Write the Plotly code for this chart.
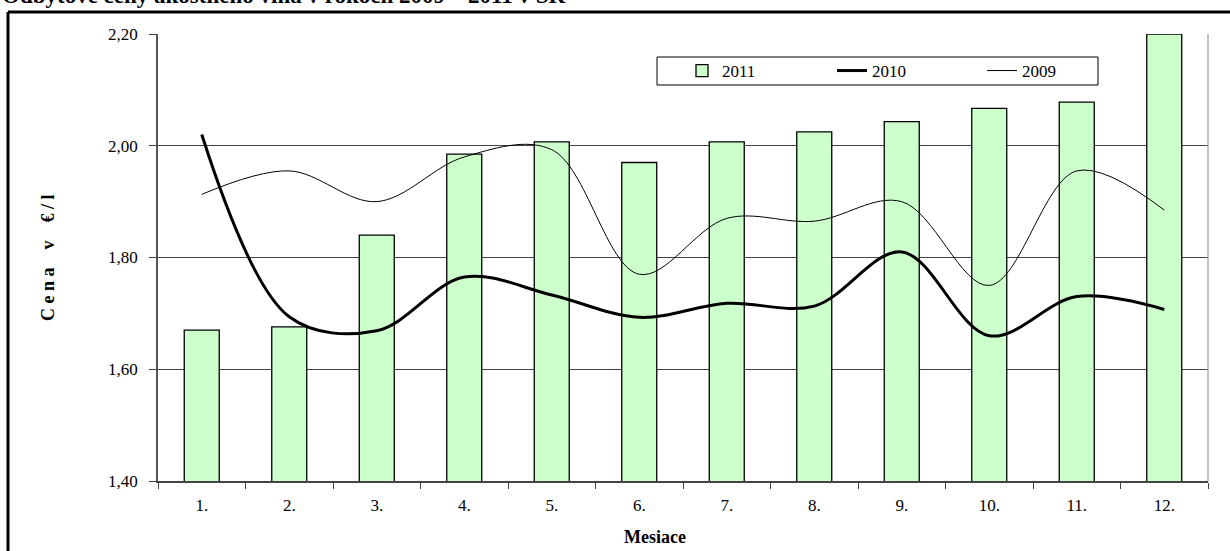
import plotly.graph_objects as go

months = ["1.", "2.", "3.", "4.", "5.", "6.", "7.", "8.", "9.", "10.", "11.", "12."]
y2011 = [1.670, 1.676, 1.840, 1.985, 2.007, 1.970, 2.007, 2.025, 2.043, 2.067, 2.078, 2.200]
y2010 = [2.020, 1.694, 1.669, 1.765, 1.733, 1.693, 1.718, 1.713, 1.810, 1.660, 1.730, 1.707]
y2009 = [1.913, 1.955, 1.900, 1.980, 1.993, 1.770, 1.870, 1.865, 1.900, 1.750, 1.955, 1.885]
yticks = [1.40, 1.60, 1.80, 2.00, 2.20]

FONT = "Liberation Serif, Times New Roman, serif"
L, R, T, B = 158, 22, 34, 70
W, H = 1230, 551
PW, PH = W - L - R, H - T - B

def px(x):
    return (x - L) / PW

def py(y):
    return (H - B - y) / PH

fig = go.Figure()
fig.add_trace(go.Bar(
    x=months, y=y2011, name="2011", width=0.4,
    marker=dict(color="#CCFFCC", line=dict(color="black", width=1.3)),
))
fig.add_trace(go.Scatter(
    x=months, y=y2010, name="2010", mode="lines",
    line=dict(color="black", width=3, shape="spline", smoothing=1),
))
fig.add_trace(go.Scatter(
    x=months, y=y2009, name="2009", mode="lines",
    line=dict(color="black", width=1, shape="spline", smoothing=1),
))

fig.update_layout(
    width=W, height=H,
    margin=dict(l=L, r=R, t=T, b=B),
    paper_bgcolor="white", plot_bgcolor="white",
    separators=", ",
    font=dict(family=FONT, size=16, color="black"),
    showlegend=True,
    legend=dict(
        orientation="h", x=px(682), y=py(71), xanchor="left", yanchor="middle",
        borderwidth=0, bgcolor="rgba(0,0,0,0)",
        font=dict(family=FONT, size=17), entrywidth=105, entrywidthmode="pixels",
        itemwidth=30,
    ),
    bargap=0.6,
)
fig.update_xaxes(
    type="category", showgrid=False, showline=True, linecolor="#444", linewidth=1.5,
    ticks="outside", tickson="boundaries", ticklen=6, tickcolor="#444",
    ticklabelstandoff=8,
    tickfont=dict(family=FONT, size=17), range=[-0.5, 11.5],
)
fig.update_yaxes(
    range=[1.40, 2.20], tickvals=yticks, tickformat=".2f",
    showgrid=True, gridcolor="#444", gridwidth=1,
    showline=True, linecolor="#555", linewidth=1.5,
    ticks="outside", ticklen=7, tickcolor="#444",
    ticklabelstandoff=8,
    tickfont=dict(family=FONT, size=17), zeroline=False,
)

shapes = [
    # plot-area border (right side)
    dict(type="line", xref="paper", yref="paper", x0=1, x1=1, y0=0, y1=1,
         line=dict(color="#999", width=1.2)),
    # legend frame
    dict(type="rect", xref="paper", yref="paper", x0=px(657), x1=px(1098), y0=py(85), y1=py(57),
         line=dict(color="black", width=1), fillcolor="white", layer="above"),
    # outer chart frame (left and top visible)
    dict(type="line", xref="paper", yref="paper", x0=px(8), x1=px(8), y0=py(12), y1=py(560),
         line=dict(color="black", width=3)),
    dict(type="line", xref="paper", yref="paper", x0=px(8), x1=px(1240), y0=py(12), y1=py(12),
         line=dict(color="black", width=3)),
]
fig.update_layout(shapes=shapes)

fig.add_annotation(
    text="<b>Odbytové ceny akostného vína v rokoch 2009 – 2011 v SR</b>",
    xref="paper", yref="paper", x=px(0), y=py(-5), xanchor="left", yanchor="middle",
    showarrow=False, font=dict(family=FONT, size=23, color="black"),
)
fig.add_annotation(
    text="<b>C e n a    v    € / l</b>", xref="paper", yref="paper",
    x=px(48), y=py(258), xanchor="center", yanchor="middle", textangle=-90,
    showarrow=False, font=dict(family=FONT, size=18, color="black"),
)
fig.add_annotation(
    text="<b>Mesiace</b>", xref="paper", yref="paper",
    x=px(655), y=py(537), xanchor="center", yanchor="middle",
    showarrow=False, font=dict(family=FONT, size=18, color="black"),
)

fig.write_html("out.html", config={"displayModeBar": False},
               post_script="document.body.style.margin = '0';")
